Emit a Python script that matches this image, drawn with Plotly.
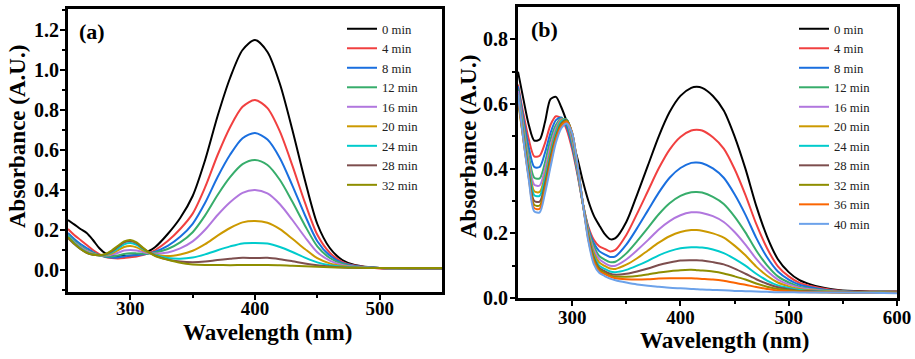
import plotly.graph_objects as go

# ---------------- Panel (a) data ----------------
wl_a = [250, 255, 260, 265, 270, 275, 280, 285, 290, 295, 300, 305, 310, 315, 320,
        330, 340, 350, 360, 370, 380, 390, 400, 410, 420, 430, 440, 450, 460, 470, 480, 500, 525, 550]

a_0min = [0.25, 0.228, 0.205, 0.185, 0.15, 0.11, 0.083, 0.073, 0.07, 0.07, 0.071, 0.074, 0.082, 0.095, 0.115,
          0.18, 0.26, 0.37, 0.55, 0.77, 0.96, 1.10, 1.15, 1.09, 0.93, 0.70, 0.45, 0.23, 0.11, 0.05, 0.025, 0.01, 0.008, 0.008]
a_4min = [0.205, 0.175, 0.15, 0.125, 0.10, 0.08, 0.065, 0.06, 0.058, 0.06, 0.064, 0.068, 0.075, 0.085, 0.10,
          0.145, 0.205, 0.282, 0.414, 0.575, 0.714, 0.816, 0.85, 0.809, 0.692, 0.522, 0.338, 0.176, 0.086, 0.041, 0.022, 0.008, 0.005, 0.005]
a_8min = [0.185, 0.155, 0.13, 0.11, 0.09, 0.075, 0.066, 0.062, 0.063, 0.068, 0.072, 0.074, 0.077, 0.083, 0.092,
          0.121, 0.166, 0.231, 0.336, 0.465, 0.576, 0.659, 0.685, 0.652, 0.559, 0.422, 0.275, 0.144, 0.072, 0.035, 0.020, 0.01, 0.009, 0.009]
a_12min = [0.175, 0.145, 0.12, 0.10, 0.085, 0.074, 0.068, 0.068, 0.072, 0.08, 0.084, 0.083, 0.081, 0.082, 0.087,
           0.105, 0.138, 0.189, 0.273, 0.375, 0.464, 0.529, 0.55, 0.525, 0.450, 0.341, 0.223, 0.118, 0.060, 0.031, 0.018, 0.01, 0.009, 0.009]
a_16min = [0.17, 0.14, 0.115, 0.095, 0.082, 0.074, 0.072, 0.076, 0.086, 0.097, 0.10, 0.097, 0.09, 0.084, 0.082,
           0.088, 0.108, 0.143, 0.201, 0.275, 0.339, 0.386, 0.40, 0.383, 0.329, 0.250, 0.165, 0.089, 0.047, 0.025, 0.016, 0.01, 0.009, 0.009]
a_20min = [0.165, 0.135, 0.11, 0.09, 0.08, 0.074, 0.074, 0.082, 0.098, 0.115, 0.12, 0.113, 0.098, 0.086, 0.078,
           0.07, 0.078, 0.096, 0.129, 0.172, 0.210, 0.238, 0.245, 0.236, 0.204, 0.156, 0.105, 0.059, 0.033, 0.020, 0.014, 0.01, 0.009, 0.009]
a_24min = [0.17, 0.135, 0.108, 0.088, 0.078, 0.074, 0.076, 0.088, 0.108, 0.128, 0.135, 0.126, 0.106, 0.088, 0.075,
           0.06, 0.056, 0.062, 0.078, 0.099, 0.118, 0.133, 0.135, 0.132, 0.115, 0.090, 0.062, 0.038, 0.024, 0.016, 0.012, 0.01, 0.009, 0.009]
a_28min = [0.16, 0.13, 0.105, 0.086, 0.076, 0.074, 0.078, 0.093, 0.116, 0.138, 0.145, 0.134, 0.11, 0.089, 0.072,
           0.052, 0.042, 0.039, 0.042, 0.050, 0.056, 0.061, 0.06, 0.061, 0.054, 0.044, 0.033, 0.024, 0.017, 0.013, 0.011, 0.01, 0.009, 0.009]
a_32min = [0.165, 0.132, 0.105, 0.086, 0.076, 0.074, 0.08, 0.097, 0.121, 0.143, 0.15, 0.138, 0.112, 0.088, 0.07,
           0.051, 0.036, 0.028, 0.025, 0.025, 0.024, 0.025, 0.025, 0.025, 0.024, 0.021, 0.019, 0.016, 0.014, 0.012, 0.011, 0.01, 0.01, 0.01]

labels_a = ["0 min", "4 min", "8 min", "12 min", "16 min", "20 min", "24 min", "28 min", "32 min"]
series_a = [a_0min, a_4min, a_8min, a_12min, a_16min, a_20min, a_24min, a_28min, a_32min]

# ---------------- Panel (b) data ----------------
wl_b = [250, 255, 260, 265, 270, 275, 280, 285, 290, 295, 300, 305, 310, 315, 320, 325,
        330, 335, 340, 350, 360, 370, 380, 390, 400, 410, 415, 420, 430, 440, 450, 460, 470, 480, 490,
        500, 510, 520, 530, 540, 550, 575, 600]

b_0min = [0.70, 0.615, 0.535, 0.487, 0.49, 0.545, 0.615, 0.622, 0.59, 0.545, 0.49, 0.43, 0.36, 0.30, 0.255, 0.225,
          0.198, 0.182, 0.185, 0.235, 0.32, 0.41, 0.50, 0.575, 0.625, 0.65, 0.653, 0.65, 0.625, 0.58, 0.50, 0.40, 0.285, 0.19, 0.12,
          0.08, 0.055, 0.042, 0.033, 0.027, 0.023, 0.02, 0.02]
b_4min = [0.66, 0.57, 0.49, 0.438, 0.44, 0.48, 0.535, 0.562, 0.555, 0.52, 0.46, 0.38, 0.29, 0.22, 0.18, 0.16,
          0.152, 0.144, 0.149, 0.195, 0.261, 0.331, 0.401, 0.459, 0.498, 0.518, 0.52, 0.518, 0.497, 0.462, 0.399, 0.319, 0.229, 0.154, 0.098,
          0.067, 0.047, 0.037, 0.030, 0.025, 0.022, 0.019, 0.019]
b_8min = [0.655, 0.555, 0.465, 0.405, 0.405, 0.45, 0.51, 0.55, 0.558, 0.53, 0.47, 0.385, 0.29, 0.215, 0.17, 0.145,
          0.135, 0.127, 0.129, 0.165, 0.216, 0.271, 0.326, 0.372, 0.402, 0.418, 0.419, 0.417, 0.401, 0.372, 0.321, 0.258, 0.186, 0.126, 0.082,
          0.057, 0.041, 0.033, 0.027, 0.023, 0.021, 0.018, 0.018]
b_12min = [0.645, 0.54, 0.44, 0.372, 0.37, 0.42, 0.49, 0.535, 0.556, 0.538, 0.48, 0.39, 0.29, 0.21, 0.16, 0.13,
           0.119, 0.111, 0.112, 0.138, 0.176, 0.217, 0.259, 0.293, 0.316, 0.327, 0.328, 0.326, 0.313, 0.291, 0.252, 0.203, 0.147, 0.101, 0.067,
           0.048, 0.035, 0.029, 0.025, 0.022, 0.020, 0.018, 0.017]
b_16min = [0.64, 0.53, 0.425, 0.35, 0.348, 0.40, 0.47, 0.525, 0.553, 0.545, 0.49, 0.395, 0.29, 0.205, 0.15, 0.12,
           0.108, 0.100, 0.100, 0.119, 0.148, 0.179, 0.212, 0.238, 0.256, 0.265, 0.265, 0.263, 0.253, 0.235, 0.204, 0.165, 0.121, 0.084, 0.057,
           0.042, 0.032, 0.027, 0.023, 0.021, 0.019, 0.018, 0.017]
b_20min = [0.63, 0.52, 0.41, 0.33, 0.328, 0.38, 0.455, 0.515, 0.55, 0.552, 0.50, 0.40, 0.29, 0.20, 0.14, 0.11,
           0.099, 0.091, 0.090, 0.103, 0.123, 0.147, 0.171, 0.191, 0.204, 0.210, 0.21, 0.208, 0.200, 0.187, 0.162, 0.132, 0.097, 0.069, 0.048,
           0.036, 0.028, 0.024, 0.022, 0.020, 0.019, 0.017, 0.016]
b_24min = [0.625, 0.51, 0.40, 0.318, 0.316, 0.37, 0.445, 0.51, 0.547, 0.552, 0.505, 0.405, 0.29, 0.195, 0.13, 0.10,
           0.090, 0.082, 0.080, 0.087, 0.100, 0.115, 0.132, 0.145, 0.154, 0.157, 0.157, 0.156, 0.150, 0.139, 0.121, 0.100, 0.075, 0.054, 0.039,
           0.031, 0.025, 0.022, 0.020, 0.019, 0.018, 0.017, 0.016]
b_28min = [0.62, 0.50, 0.385, 0.30, 0.298, 0.355, 0.435, 0.50, 0.54, 0.55, 0.51, 0.41, 0.29, 0.19, 0.125, 0.093,
           0.083, 0.075, 0.072, 0.075, 0.082, 0.091, 0.102, 0.110, 0.116, 0.117, 0.117, 0.116, 0.111, 0.104, 0.091, 0.075, 0.058, 0.044, 0.033,
           0.027, 0.022, 0.021, 0.019, 0.018, 0.018, 0.016, 0.016]
b_32min = [0.61, 0.49, 0.375, 0.288, 0.286, 0.345, 0.425, 0.495, 0.537, 0.548, 0.51, 0.41, 0.29, 0.185, 0.12, 0.088,
           0.078, 0.070, 0.066, 0.066, 0.068, 0.073, 0.079, 0.083, 0.086, 0.087, 0.086, 0.085, 0.082, 0.076, 0.067, 0.057, 0.045, 0.035, 0.028,
           0.024, 0.021, 0.019, 0.018, 0.018, 0.017, 0.016, 0.016]
b_36min = [0.62, 0.49, 0.37, 0.278, 0.276, 0.335, 0.415, 0.49, 0.532, 0.545, 0.51, 0.41, 0.29, 0.18, 0.113, 0.083,
           0.074, 0.066, 0.061, 0.058, 0.057, 0.058, 0.060, 0.061, 0.061, 0.061, 0.06, 0.059, 0.057, 0.053, 0.047, 0.041, 0.034, 0.028, 0.023,
           0.021, 0.019, 0.018, 0.018, 0.017, 0.017, 0.016, 0.016]
b_40min = [0.63, 0.49, 0.365, 0.268, 0.265, 0.325, 0.405, 0.48, 0.525, 0.54, 0.51, 0.41, 0.29, 0.175, 0.105, 0.078,
           0.068, 0.060, 0.055, 0.048, 0.042, 0.038, 0.035, 0.032, 0.030, 0.028, 0.027, 0.026, 0.025, 0.024, 0.022, 0.021, 0.020, 0.019, 0.018,
           0.018, 0.017, 0.017, 0.017, 0.017, 0.017, 0.016, 0.015]

labels_b = ["0 min", "4 min", "8 min", "12 min", "16 min", "20 min", "24 min", "28 min", "32 min", "36 min", "40 min"]
series_b = [b_0min, b_4min, b_8min, b_12min, b_16min, b_20min, b_24min, b_28min, b_32min, b_36min, b_40min]

colors = ["#000000", "#F14040", "#1A6FDF", "#37AD6B", "#B177DE", "#CC9900",
          "#00CBCC", "#7D4E4E", "#8E8E00", "#FB6501", "#6CA2EA"]

W, H = 915, 359
SERIF = "Liberation Serif"

fig = go.Figure()
for name, ys, col in zip(labels_a, series_a, colors):
    fig.add_trace(go.Scatter(x=wl_a, y=ys, name=name, mode="lines",
                             line=dict(color=col, width=2, shape="spline", smoothing=0.8),
                             xaxis="x", yaxis="y", legend="legend"))
for name, ys, col in zip(labels_b, series_b, colors):
    fig.add_trace(go.Scatter(x=wl_b, y=ys, name=name, mode="lines",
                             line=dict(color=col, width=2, shape="spline", smoothing=0.8),
                             xaxis="x2", yaxis="y2", legend="legend2"))

def px_x(p):
    return p / W

def px_y(p):
    return 1 - p / H

minor_style = dict(ticks="outside", ticklen=3, tickwidth=1.5, tickcolor="black")
axis_common = dict(showline=True, linewidth=3, linecolor="black", mirror=True,
                   ticks="outside", ticklen=5, tickwidth=2, tickcolor="black",
                   showgrid=False, zeroline=False, automargin=False,
                   tickfont=dict(family=SERIF, size=19, color="black", weight="bold"))
ytick_font = dict(family=SERIF, size=20, color="black", weight="bold")

legend_common = dict(font=dict(family=SERIF, size=12.7, color="#222222"),
                     bgcolor="rgba(0,0,0,0)", borderwidth=0,
                     xanchor="left", yanchor="top", tracegroupgap=0)

fig.update_layout(
    template="none",
    width=W, height=H,
    margin=dict(l=0, r=0, t=0, b=0, autoexpand=False),
    paper_bgcolor="white", plot_bgcolor="white",
    xaxis=dict(axis_common, domain=[px_x(68), px_x(442)], range=[250, 550],
               tickvals=[300, 400, 500], anchor="y", ticklabelstandoff=-8,
               minor=dict(minor_style, tickvals=[350, 450])),
    yaxis=dict(axis_common, domain=[px_y(292), px_y(9)], range=[-0.11, 1.305],
               tickvals=[0, 0.2, 0.4, 0.6, 0.8, 1.0, 1.2], tickformat=".1f", anchor="x",
               tickfont=ytick_font, ticklabelstandoff=-3,
               minor=dict(minor_style, tickvals=[-0.1, 0.1, 0.3, 0.5, 0.7, 0.9, 1.1, 1.3])),
    xaxis2=dict(axis_common, domain=[px_x(518), px_x(897)], range=[250, 600],
                tickvals=[300, 400, 500, 600], anchor="y2", ticklabelstandoff=-5,
                minor=dict(minor_style, tickvals=[350, 450, 550])),
    yaxis2=dict(axis_common, domain=[px_y(298), px_y(7)], range=[0, 0.9],
                tickvals=[0, 0.2, 0.4, 0.6, 0.8], tickformat=".1f", anchor="x2",
                tickfont=ytick_font, ticklabelstandoff=-2,
                minor=dict(minor_style, tickvals=[0.1, 0.3, 0.5, 0.7])),
    legend=dict(legend_common, x=px_x(342), y=px_y(14)),
    legend2=dict(legend_common, x=px_x(794), y=px_y(14)),
    showlegend=True,
)

title_font = dict(family=SERIF, size=23, color="black", weight="bold")
ann = dict(xref="paper", yref="paper", showarrow=False, xanchor="center", yanchor="middle")
fig.add_annotation(ann, text="(a)", x=px_x(92), y=px_y(32),
                   font=dict(family=SERIF, size=22, color="black", weight="bold"))
fig.add_annotation(ann, text="(b)", x=px_x(544), y=px_y(30),
                   font=dict(family=SERIF, size=22, color="black", weight="bold"))
fig.add_annotation(ann, text="Wavelength (nm)", x=px_x(267), y=px_y(332), font=title_font)
fig.add_annotation(ann, text="Wavelength (nm)", x=px_x(724), y=px_y(340), font=title_font)
fig.add_annotation(ann, text="Absorbance (A.U.)", x=px_x(17), y=px_y(137), textangle=-90, font=title_font)
fig.add_annotation(ann, text="Absorbance (A.U.)", x=px_x(468), y=px_y(146), textangle=-90, font=title_font)

# remove the browser's default 8px page margin so the figure fills the window exactly
fig.write_html("out.html", config={"displayModeBar": False},
               post_script="document.body.style.margin='0px';")
